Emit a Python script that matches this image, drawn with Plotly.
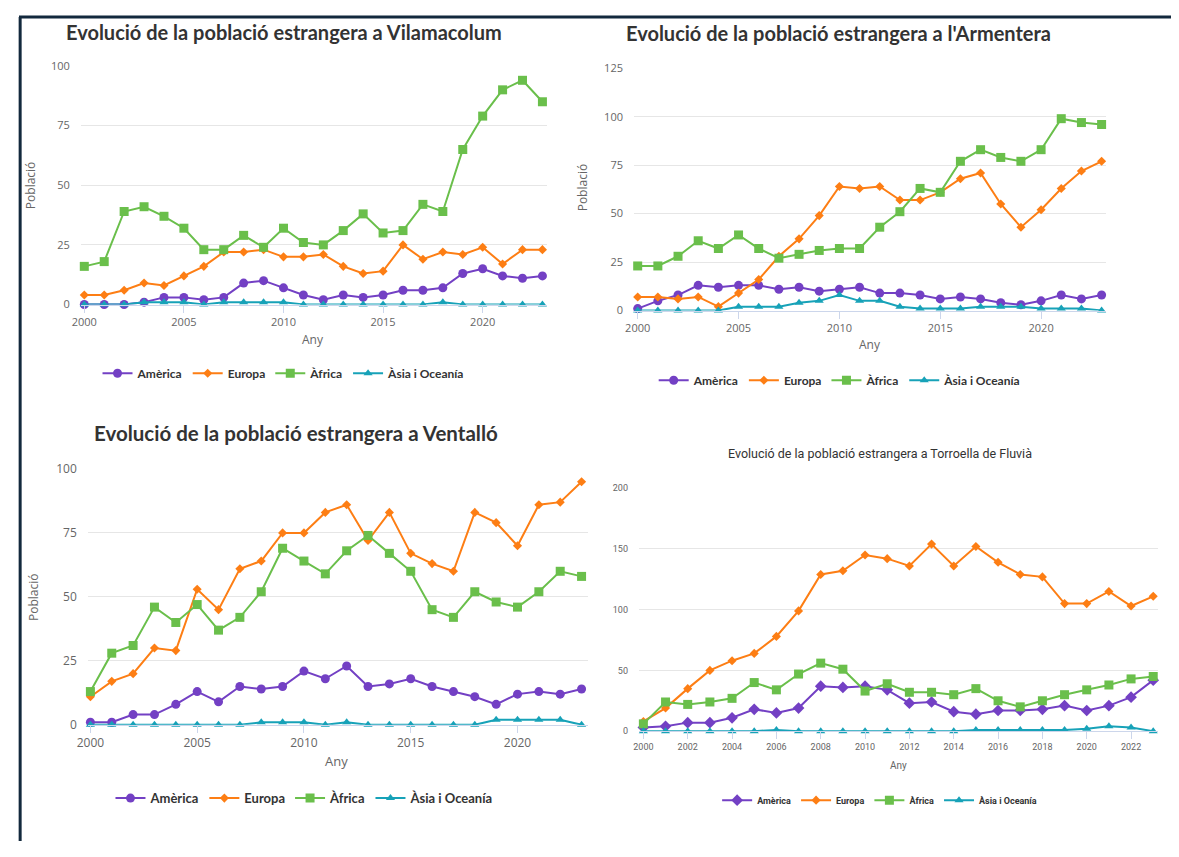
import plotly.graph_objects as go

# figure size and the measured placement of the figure inside the photographed page
FW, FH = 1163, 841
AX, SX = 18.1, 0.992
AY, SY = 16.7, 0.98

years = list(range(2000, 2024))
series_names = ['Amèrica', 'Europa', 'Àfrica', 'Àsia i Oceanía']

# Vilamacolum
vila_america = [0, 0, 0, 1, 3, 3, 2, 3, 9, 10, 7, 4, 2, 4, 3, 4, 6, 6, 7, 13, 15, 12, 11, 12]
vila_europa = [4, 4, 6, 9, 8, 12, 16, 22, 22, 23, 20, 20, 21, 16, 13, 14, 25, 19, 22, 21, 24, 17, 23, 23]
vila_africa = [16, 18, 39, 41, 37, 32, 23, 23, 29, 24, 32, 26, 25, 31, 38, 30, 31, 42, 39, 65, 79, 90, 94, 85]
vila_asia = [0, 0, 0, 1, 1, 1, 0, 1, 1, 1, 1, 0, 0, 0, 0, 0, 0, 0, 1, 0, 0, 0, 0, 0]

# l'Armentera
arm_america = [1, 5, 8, 13, 12, 13, 13, 11, 12, 10, 11, 12, 9, 9, 8, 6, 7, 6, 4, 3, 5, 8, 6, 8]
arm_europa = [7, 7, 6, 7, 2, 9, 16, 28, 37, 49, 64, 63, 64, 57, 57, 61, 68, 71, 55, 43, 52, 63, 72, 77]
arm_africa = [23, 23, 28, 36, 32, 39, 32, 27, 29, 31, 32, 32, 43, 51, 63, 61, 77, 83, 79, 77, 83, 99, 97, 96]
arm_asia = [0, 0, 0, 0, 0, 2, 2, 2, 4, 5, 8, 5, 5, 2, 1, 1, 1, 2, 2, 2, 1, 1, 1, 0]

# Ventalló
vent_america = [1, 1, 4, 4, 8, 13, 9, 15, 14, 15, 21, 18, 23, 15, 16, 18, 15, 13, 11, 8, 12, 13, 12, 14]
vent_europa = [11, 17, 20, 30, 29, 53, 45, 61, 64, 75, 75, 83, 86, 72, 83, 67, 63, 60, 83, 79, 70, 86, 87, 95]
vent_africa = [13, 28, 31, 46, 40, 47, 37, 42, 52, 69, 64, 59, 68, 74, 67, 60, 45, 42, 52, 48, 46, 52, 60, 58]
vent_asia = [0, 0, 0, 0, 0, 0, 0, 0, 1, 1, 1, 0, 1, 0, 0, 0, 0, 0, 0, 2, 2, 2, 2, 0]

# Torroella de Fluvià
torr_america = [3, 4, 7, 7, 11, 18, 15, 19, 37, 36, 37, 34, 23, 24, 16, 14, 17, 17, 18, 21, 17, 21, 28, 42]
torr_europa = [8, 19, 35, 50, 58, 64, 78, 99, 129, 132, 145, 142, 136, 154, 136, 152, 139, 129, 127, 105, 105, 115, 103, 111]
torr_africa = [6, 24, 22, 24, 27, 40, 34, 47, 56, 51, 33, 39, 32, 32, 30, 35, 25, 20, 25, 30, 34, 38, 43, 45]
torr_asia = [0, 0, 0, 0, 0, 0, 1, 0, 0, 0, 0, 0, 0, 0, 0, 1, 1, 1, 1, 1, 2, 4, 3, 0]

titles = ['Evolució de la població estrangera a Vilamacolum',
          "Evolució de la població estrangera a l'Armentera",
          'Evolució de la població estrangera a Ventalló',
          'Evolució de la població estrangera a Torroella de Fluvià']

data_sets = [
    [vila_america, vila_europa, vila_africa, vila_asia],
    [arm_america, arm_europa, arm_africa, arm_asia],
    [vent_america, vent_europa, vent_africa, vent_asia],
    [torr_america, torr_europa, torr_africa, torr_asia],
]

colors = ['#7340c4', '#fd7e14', '#6abf4b', '#17a2b8']


def fx(px):
    return min(max((px - AX) / SX / FW, 0), 1)


def fy(py):
    return min(max(1 - (py - AY) / SY / FH, 0), 1)


# pixel layout of every panel (reference picture coordinates)
panels = [
    dict(gl=80, gr=547, x00=83.5, x23=542.3, y0=304.3, ytop=65.7, ymax=100, dtick=5, ytick=25,
         title=(283, 32, 20), ylab=(29, 185), xlab=(313, 339), leg=(283, 373), font='Lato',
         tickfont='Open Sans', tsize=11, lsize=12),
    dict(gl=634, gr=1107, x00=637.7, x23=1102.3, y0=310.3, ytop=68, ymax=125, dtick=5, ytick=25,
         title=(839, 33, 20), ylab=(582, 188), xlab=(870, 344), leg=(840, 380), font='Lato',
         tickfont='Open Sans', tsize=11, lsize=12),
    dict(gl=87, gr=588, x00=89.6, x23=581.5, y0=724.7, ytop=468.7, ymax=100, dtick=5, ytick=25,
         title=(296, 433, 20.5), ylab=(32, 597), xlab=(336, 761), leg=(304, 798), font='Lato',
         tickfont='Open Sans', tsize=12, lsize=13),
    dict(gl=639, gr=1159, x00=643.4, x23=1154, y0=731, ytop=488, ymax=200, dtick=2, ytick=50,
         title=(880, 453, 12.5), ylab=None, xlab=(899, 765), leg=(880, 800),
         font='Roboto', tickfont='Roboto', tsize=9, lsize=9),
]

fig = go.Figure()
annotations = []
layout = {}

for i, (p, sets) in enumerate(zip(panels, data_sets)):
    n = '' if i == 0 else str(i + 1)
    legname = 'legend' + n
    symbols = ['circle', 'diamond', 'square', 'triangle-up']
    sizes = [9, 7, 9, 8]
    if i == 3:
        symbols = ['diamond', 'diamond', 'square', 'triangle-up']
    for name, vals, col, sym, sz in zip(series_names, sets, colors, symbols, sizes):
        fig.add_trace(go.Scatter(
            x=years, y=vals, name=name, mode='lines+markers',
            line=dict(color=col, width=2),
            marker=dict(symbol=sym, size=sz, color=col),
            xaxis='x' + n, yaxis='y' + n, legend=legname,
            cliponaxis=False,
        ))

    ppy = (p['x23'] - p['x00']) / 23
    xr = [2000 - (p['x00'] - p['gl']) / ppy, 2023 + (p['gr'] - p['x23']) / ppy]
    layout['xaxis' + n] = dict(
        domain=[fx(p['gl']), fx(p['gr'])], range=xr, anchor='y' + n,
        tick0=2000, dtick=p['dtick'], showgrid=False, zeroline=False,
        showline=True, linecolor='#ccd6eb', linewidth=1,
        ticks='outside', ticklen=7, tickcolor='#ccd6eb',
        tickfont=dict(family=p['tickfont'], size=p['tsize'], color='#666666'),
    )
    layout['yaxis' + n] = dict(
        domain=[fy(p['y0']), fy(p['ytop'])], range=[0, p['ymax']], anchor='x' + n,
        tick0=0, dtick=p['ytick'], showgrid=True, gridcolor='#e6e6e6', zeroline=False,
        showline=False, ticks='', ticklabelstandoff=10,
        tickfont=dict(family=p['tickfont'], size=p['tsize'], color='#666666'),
    )
    tx, ty, ts = p['title']
    annotations.append(dict(
        text=titles[i], x=fx(tx), y=fy(ty), xref='paper', yref='paper',
        xanchor='center', yanchor='middle', showarrow=False,
        font=dict(family=p['font'], size=ts, color='#333333',
                  weight='bold' if i < 3 else 'normal'),
    ))
    if p['ylab']:
        annotations.append(dict(
            text='Població', x=fx(p['ylab'][0]), y=fy(p['ylab'][1]), xref='paper', yref='paper',
            xanchor='center', yanchor='middle', showarrow=False, textangle=-90,
            font=dict(family=p['tickfont'], size=12, color='#666666'),
        ))
    annotations.append(dict(
        text='Any', x=fx(p['xlab'][0]), y=fy(p['xlab'][1]), xref='paper', yref='paper',
        xanchor='center', yanchor='middle', showarrow=False,
        font=dict(family=p['tickfont'], size=p['tsize'] + 1, color='#666666'),
    ))
    layout[legname] = dict(
        orientation='h', x=fx(p['leg'][0]), y=fy(p['leg'][1]),
        xanchor='center', yanchor='middle', bgcolor='rgba(0,0,0,0)',
        itemwidth=30, itemclick=False, tracegroupgap=0,
        font=dict(family=p['font'], size=p['lsize'], color='#333333', weight='bold'),
    )

# dark frame of the page (top and left edges)
shapes = [
    dict(type='line', xref='paper', yref='paper', x0=0, x1=1, y0=fy(12), y1=fy(12),
         line=dict(color='#13293d', width=3)),
    dict(type='line', xref='paper', yref='paper', x0=0.001, x1=0.001, y0=fy(12), y1=0,
         line=dict(color='#13293d', width=3)),
]

fig.update_layout(
    width=FW, height=FH,
    margin=dict(l=0, r=0, t=0, b=0),
    paper_bgcolor='white', plot_bgcolor='white',
    annotations=annotations, shapes=shapes,
    hovermode='closest',
    **layout,
)

fig.write_html('out.html')
